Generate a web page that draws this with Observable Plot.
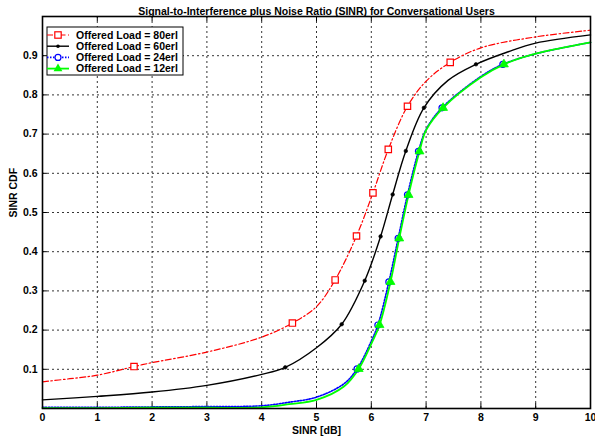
<!DOCTYPE html>
<html>
<head>
<meta charset="utf-8">
<script src="https://cdn.jsdelivr.net/npm/d3@7"></script>
<script src="https://cdn.jsdelivr.net/npm/@observablehq/plot@0.6"></script>
<style>
  html, body { margin: 0; padding: 0; background: #fff; }
  #chart svg { display: block; }
</style>
</head>
<body>
<div id="chart"></div>
<script>
// ---- data ----
const titleText = "Signal-to-Interference plus Noise Ratio (SINR) for Conversational Users";
const xLabel = "SINR [dB]";
const yLabel = "SINR CDF";
const xTicks = [0, 1, 2, 3, 4, 5, 6, 7, 8, 9, 10];
const yTicks = [0.1, 0.2, 0.3, 0.4, 0.5, 0.6, 0.7, 0.8, 0.9];
const seriesNames = ["Offered Load = 80erl", "Offered Load = 60erl", "Offered Load = 24erl", "Offered Load = 12erl"];

// 80 erl curve
const red_x = [0, 0.5, 1, 1.67, 2, 3, 4, 4.56, 5, 5.34, 5.73, 6.03, 6.31, 6.66, 7, 7.44, 8, 9, 10];
const red_y = [0.068, 0.076, 0.085, 0.107, 0.117, 0.144, 0.182, 0.218, 0.26, 0.328, 0.44, 0.55, 0.661, 0.771, 0.835, 0.883, 0.92, 0.948, 0.965];
const red_mx = [1.67, 4.56, 5.34, 5.73, 6.03, 6.31, 6.66, 7.44];
const red_my = [0.107, 0.218, 0.328, 0.44, 0.55, 0.661, 0.771, 0.883];

// 60 erl curve
const black_x = [0, 1, 2, 3, 4, 4.43, 5, 5.46, 5.88, 6.17, 6.39, 6.63, 6.96, 7.4, 7.91, 8.5, 9, 10];
const black_y = [0.022, 0.031, 0.042, 0.059, 0.087, 0.105, 0.155, 0.215, 0.326, 0.439, 0.546, 0.657, 0.767, 0.837, 0.878, 0.91, 0.932, 0.953];
const black_mx = [4.43, 5.46, 5.88, 6.17, 6.39, 6.63, 6.96, 7.91];
const black_my = [0.105, 0.215, 0.326, 0.439, 0.546, 0.657, 0.767, 0.878];

// 24 erl curve
const blue_x = [0, 1, 2, 3, 4, 4.5, 5, 5.5, 5.74, 6, 6.12, 6.32, 6.49, 6.66, 6.86, 7, 7.29, 8, 8.4, 9, 10];
const blue_y = [0.003, 0.003, 0.004, 0.005, 0.007, 0.016, 0.029, 0.063, 0.101, 0.172, 0.213, 0.323, 0.434, 0.545, 0.656, 0.712, 0.767, 0.847, 0.878, 0.905, 0.934];
const blue_mx = [5.74, 6.12, 6.32, 6.49, 6.66, 6.86, 7.29, 8.4];
const blue_my = [0.101, 0.213, 0.323, 0.434, 0.545, 0.656, 0.767, 0.878];

// 12 erl curve
const green_x = [0, 1, 2, 3, 4, 4.5, 5, 5.5, 5.77, 6, 6.15, 6.35, 6.51, 6.68, 6.88, 7, 7.31, 8, 8.42, 9, 10];
const green_y = [0.001, 0.001, 0.002, 0.002, 0.003, 0.011, 0.022, 0.056, 0.101, 0.165, 0.213, 0.323, 0.434, 0.545, 0.656, 0.71, 0.767, 0.845, 0.878, 0.905, 0.934];
const green_mx = [5.77, 6.15, 6.35, 6.51, 6.68, 6.88, 7.31, 8.42];
const green_my = [0.101, 0.213, 0.323, 0.434, 0.545, 0.656, 0.767, 0.878];

// ---- build tables ----
const pts = (xs, ys) => xs.map((x, i) => ({x, y: ys[i]}));
const redLine = pts(red_x, red_y), redMk = pts(red_mx, red_my);
const blackLine = pts(black_x, black_y), blackMk = pts(black_mx, black_my);
const blueLine = pts(blue_x, blue_y), blueMk = pts(blue_mx, blue_my);
const greenLine = pts(green_x, green_y), greenMk = pts(green_mx, green_my);

const RED = "#ff0000", BLACK = "#000000", BLUE = "#0000ff", GREEN = "#00ff00";
const FONT = "'Liberation Sans', Arial, Helvetica, sans-serif";

const W = 595, H = 438;
const mL = 42, mR = 5, mT = 16, mB = 30;

const plot = Plot.plot({
  width: W,
  height: H,
  marginLeft: mL,
  marginRight: mR,
  marginTop: mT,
  marginBottom: mB,
  style: {fontFamily: FONT, fontSize: "10.5px", fontWeight: "bold", background: "#fff", color: "#000"},
  x: {domain: [0, 10], label: null},
  y: {domain: [0, 1], label: null},
  marks: [
    Plot.gridX(xTicks.slice(1, -1), {stroke: "#000", strokeOpacity: 1, strokeWidth: 0.8, strokeDasharray: "2,3"}),
    Plot.gridY(yTicks, {stroke: "#000", strokeOpacity: 1, strokeWidth: 0.8, strokeDasharray: "2,3"}),
    // inward ticks on all four sides
    Plot.ruleX(xTicks, {y1: 0, y2: 0.013, stroke: "#000"}),
    Plot.ruleX(xTicks, {y1: 0.987, y2: 1, stroke: "#000"}),
    Plot.ruleY(yTicks, {x1: 0, x2: 0.09, stroke: "#000"}),
    Plot.ruleY(yTicks, {x1: 9.91, x2: 10, stroke: "#000"}),
    Plot.axisX(xTicks, {tickSize: 0, tickPadding: 5, tickFormat: d3.format("d"), label: null}),
    Plot.axisY(yTicks, {tickSize: 0, tickPadding: 5, tickFormat: d3.format(".1f"), label: null}),
    // curves
    Plot.line(redLine, {x: "x", y: "y", stroke: RED, strokeWidth: 1.2, strokeDasharray: "6,2.5,1.5,2.5", curve: "catmull-rom"}),
    Plot.line(blackLine, {x: "x", y: "y", stroke: BLACK, strokeWidth: 1.4, curve: "catmull-rom"}),
    Plot.line(blueLine, {x: "x", y: "y", stroke: BLUE, strokeWidth: 1.6, strokeDasharray: "1.5,1.5", curve: "catmull-rom"}),
    Plot.line(greenLine, {x: "x", y: "y", stroke: GREEN, strokeWidth: 1.8, curve: "catmull-rom"}),
    // markers
    Plot.dot(redMk, {x: "x", y: "y", symbol: "square", r: 3.6, stroke: RED, strokeWidth: 1.2, fill: "#fff"}),
    Plot.dot(blackMk, {x: "x", y: "y", r: 1.8, fill: BLACK, stroke: BLACK, strokeWidth: 0.6}),
    Plot.dot(blueMk, {x: "x", y: "y", r: 3, stroke: BLUE, strokeWidth: 1.2, fill: "none"}),
    Plot.dot(greenMk, {x: "x", y: "y", symbol: "triangle", r: 3.3, fill: GREEN, stroke: GREEN, strokeWidth: 0.8}),
    Plot.frame({stroke: "#000", strokeWidth: 1.6}),
    // titles
    Plot.text([titleText], {frameAnchor: "top", lineAnchor: "bottom", dy: -2, fontSize: 10.5, fontWeight: "bold"}),
    Plot.text([xLabel], {frameAnchor: "bottom", lineAnchor: "top", dy: 18, fontSize: 10.5, fontWeight: "bold"}),
    Plot.text([yLabel], {frameAnchor: "left", rotate: -90, dx: -29, dy: 5, fontSize: 10.5, fontWeight: "bold"})
  ]
});

document.getElementById("chart").appendChild(plot);

// ---- legend (overlay inside the axes box) ----
const svg = d3.select(plot);
const leg = svg.append("g").attr("font-family", FONT).attr("font-size", "10.5px").attr("font-weight", "bold")
  .attr("text-anchor", "start");
const lx = mL + 5, ly = mT + 11, lw = 136, lh = 48;
leg.append("rect").attr("x", lx).attr("y", ly).attr("width", lw).attr("height", lh)
  .attr("fill", "#fff").attr("stroke", "#000").attr("stroke-width", 1);
const legStyles = [
  {c: RED, dash: "6,2.5,1.5,2.5", w: 1.2, m: "square"},
  {c: BLACK, dash: null, w: 1.4, m: "dot"},
  {c: BLUE, dash: "1.5,1.5", w: 1.6, m: "circle"},
  {c: GREEN, dash: null, w: 1.8, m: "triangle"}
];
seriesNames.forEach((name, i) => {
  const s = legStyles[i];
  const cy = ly + 8 + i * 11.2;
  const l = leg.append("line").attr("x1", lx + 0).attr("x2", lx + 22).attr("y1", cy).attr("y2", cy)
    .attr("stroke", s.c).attr("stroke-width", s.w);
  if (s.dash) l.attr("stroke-dasharray", s.dash);
  const mx = lx + 11;
  if (s.m === "square") {
    leg.append("rect").attr("x", mx - 3.2).attr("y", cy - 3.2).attr("width", 6.4).attr("height", 6.4)
      .attr("fill", "#fff").attr("stroke", s.c).attr("stroke-width", 1.2);
  } else if (s.m === "dot") {
    leg.append("circle").attr("cx", mx).attr("cy", cy).attr("r", 1.8).attr("fill", s.c);
  } else if (s.m === "circle") {
    leg.append("circle").attr("cx", mx).attr("cy", cy).attr("r", 3).attr("fill", "#fff").attr("stroke", s.c).attr("stroke-width", 1.2);
  } else {
    leg.append("path").attr("d", d3.symbol(d3.symbolTriangle, 34)()).attr("transform", `translate(${mx},${cy})`)
      .attr("fill", s.c);
  }
  leg.append("text").attr("x", lx + 29).attr("y", cy).attr("dy", "0.35em").attr("text-anchor", "start")
    .attr("fill", "#000").text(name);
});
</script>
</body>
</html>
